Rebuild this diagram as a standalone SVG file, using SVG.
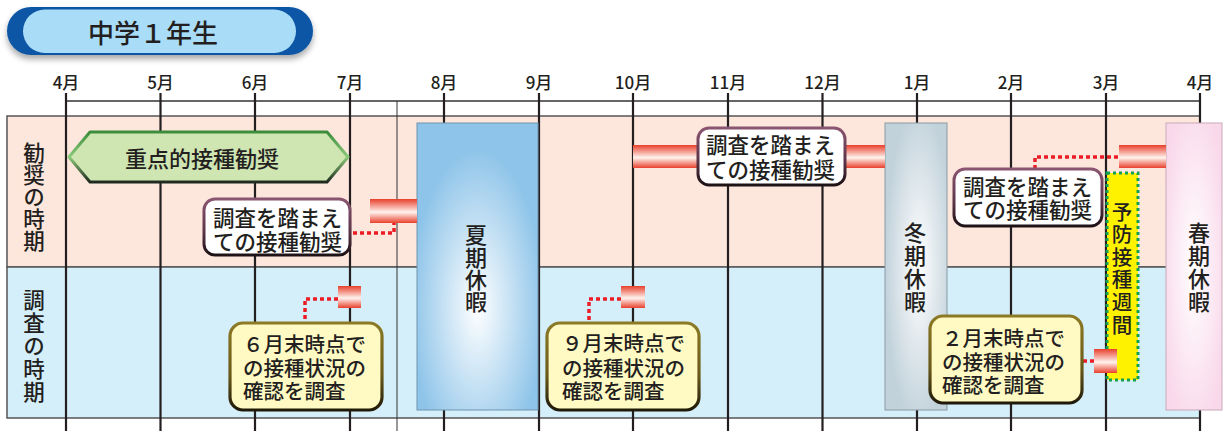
<svg xmlns="http://www.w3.org/2000/svg" width="1226" height="431" viewBox="0 0 1226 431">
<defs>
<style>
text{font-family:"Noto Sans CJK JP","Noto Sans",sans-serif;fill:#231f20;font-weight:500;}
.mon{font-size:17px;text-anchor:middle;}
.vert{writing-mode:vertical-rl;text-anchor:start;}
.lbl{font-size:21.5px;}
.vac{font-size:22px;}
.pc{font-size:21.5px;}
.yc{font-size:20.5px;}
.mline{stroke:#231f20;stroke-width:2.2;}
.dot{fill:none;stroke:#ec1c24;stroke-width:3.5;stroke-dasharray:4 3;}
.pcall{fill:#ffffff;stroke:url(#pinkStroke);stroke-width:3;}
.ycall{fill:#fff9c4;stroke:url(#yelStroke);stroke-width:3.2;}
.bar{fill:url(#redGrad);}
</style>
<linearGradient id="redGrad" x1="0" y1="0" x2="0" y2="1">
<stop offset="0" stop-color="#e8402c"/>
<stop offset="0.55" stop-color="#fff3ee"/>
<stop offset="1" stop-color="#e8402c"/>
</linearGradient>
<linearGradient id="pinkStroke" x1="0" y1="0" x2="0" y2="1">
<stop offset="0" stop-color="#8a5570"/>
<stop offset="0.6" stop-color="#5a3346"/>
<stop offset="1" stop-color="#1d1216"/>
</linearGradient>
<linearGradient id="yelStroke" x1="0" y1="0" x2="0" y2="1">
<stop offset="0" stop-color="#8c7a26"/>
<stop offset="0.6" stop-color="#6a5a1a"/>
<stop offset="1" stop-color="#1f1a08"/>
</linearGradient>
<linearGradient id="greenStroke" x1="0" y1="0" x2="0" y2="1">
<stop offset="0" stop-color="#3b8c3b"/>
<stop offset="0.5" stop-color="#8ccb7a"/>
<stop offset="1" stop-color="#1e2a1e"/>
</linearGradient>
<radialGradient id="sumGrad" cx="0.5" cy="0.64" r="0.55">
<stop offset="0" stop-color="#ffffff"/>
<stop offset="1" stop-color="#8ec4e9"/>
</radialGradient>
<radialGradient id="winGrad" cx="0.55" cy="0.5" r="0.55">
<stop offset="0" stop-color="#ffffff"/>
<stop offset="1" stop-color="#c2d2db"/>
</radialGradient>
<radialGradient id="sprGrad" cx="0.5" cy="0.5" r="0.6">
<stop offset="0" stop-color="#ffffff"/>
<stop offset="1" stop-color="#f9d8ea"/>
</radialGradient>
<filter id="shadow" x="-10%" y="-30%" width="120%" height="170%">
<feDropShadow dx="0" dy="4" stdDeviation="3" flood-color="#000" flood-opacity="0.35"/>
</filter>
</defs>

<g id="title">
<rect x="7" y="7" width="306" height="48" rx="24" fill="#0a56a6" filter="url(#shadow)"/>
<rect x="23" y="9.5" width="273" height="43.5" rx="21.75" fill="#a9dcf7"/>
<text x="88" y="43" style="font-size:26px">中学１年生</text>
</g>

<g id="table">
<rect x="7" y="116" width="1193" height="151" fill="#fde6dc" stroke="#555" stroke-width="1.5"/>
<rect x="7" y="267" width="1193" height="151" fill="#d4eefa" stroke="#555" stroke-width="1.5"/>
<line x1="66" y1="101" x2="1200" y2="101" stroke="#333" stroke-width="1.5"/>
<line x1="397" y1="101" x2="397" y2="431" stroke="#333" stroke-width="1"/>
<line class="mline" x1="66" y1="93" x2="66" y2="431"/>
<line class="mline" x1="160.5" y1="93" x2="160.5" y2="431"/>
<line class="mline" x1="255" y1="93" x2="255" y2="431"/>
<line class="mline" x1="350" y1="93" x2="350" y2="431"/>
<line class="mline" x1="444" y1="93" x2="444" y2="431"/>
<line class="mline" x1="539" y1="93" x2="539" y2="431"/>
<line class="mline" x1="633" y1="93" x2="633" y2="431"/>
<line class="mline" x1="728" y1="93" x2="728" y2="431"/>
<line class="mline" x1="822.5" y1="93" x2="822.5" y2="431"/>
<line class="mline" x1="917" y1="93" x2="917" y2="431"/>
<line class="mline" x1="1011" y1="93" x2="1011" y2="431"/>
<line class="mline" x1="1106" y1="93" x2="1106" y2="431"/>
<line class="mline" x1="1200" y1="93" x2="1200" y2="431"/>
</g>

<g id="months">
<text class="mon" x="66" y="89">4月</text>
<text class="mon" x="160.5" y="89">5月</text>
<text class="mon" x="255" y="89">6月</text>
<text class="mon" x="350" y="89">7月</text>
<text class="mon" x="444" y="89">8月</text>
<text class="mon" x="539" y="89">9月</text>
<text class="mon" x="633" y="89">10月</text>
<text class="mon" x="728" y="89">11月</text>
<text class="mon" x="822.5" y="89">12月</text>
<text class="mon" x="917" y="89">1月</text>
<text class="mon" x="1011" y="89">2月</text>
<text class="mon" x="1106" y="89">3月</text>
<text class="mon" x="1200" y="89">4月</text>
</g>

<g id="row-labels">
<text class="lbl vert" x="34" y="142.5" style="letter-spacing:0.3px">勧奨の時期</text>
<text class="lbl vert" x="34" y="289" style="letter-spacing:1.5px">調査の時期</text>
</g>

<g id="summer">
<rect x="417" y="123" width="121" height="287" fill="url(#sumGrad)" stroke="#6f93ad" stroke-width="1"/>
<text class="vac vert" x="476" y="224" style="letter-spacing:0.3px">夏期休暇</text>
</g>

<g id="winter">
<rect x="885" y="123" width="62" height="287" fill="url(#winGrad)" stroke="#8a9aa3" stroke-width="1"/>
<text class="vac vert" x="915" y="222" style="letter-spacing:1px">冬期休暇</text>
</g>

<g id="spring">
<rect x="1166" y="123" width="56" height="287" fill="url(#sprGrad)" stroke="#c9a9b9" stroke-width="1"/>
<text class="vac vert" x="1199" y="222" style="letter-spacing:1px">春期休暇</text>
</g>

<g id="connectors">
<rect class="bar" x="370" y="199" width="47" height="24"/>
<rect class="bar" x="633" y="145" width="65" height="23"/>
<rect class="bar" x="845" y="145" width="40" height="23"/>
<rect class="bar" x="1119" y="145" width="47" height="23"/>
<rect class="bar" x="338" y="286" width="23" height="22"/>
<rect class="bar" x="621" y="286" width="24" height="22"/>
<polyline class="dot" points="353,233 394,233 394,223"/>
<polyline class="dot" points="1035,169 1035,157 1119,157"/>
<polyline class="dot" points="338,299 305,299 305,323"/>
<polyline class="dot" points="621,299 589,299 589,323"/>
<polyline class="dot" points="1083,361 1094,361"/>
</g>

<g id="yobou">
<rect x="1107" y="173" width="31" height="207" fill="#fff200" stroke="#13a052" stroke-width="3" stroke-dasharray="3 3"/>
<text class="yc vert" x="1122" y="201.5" style="letter-spacing:2.1px">予防接種週間</text>
</g>
<rect class="bar" x="1094" y="349" width="23" height="24"/>

<g id="juten">
<polygon points="69,157 90,132 327,132 348,157 327,182 90,182" fill="#cfe5b2" stroke="url(#greenStroke)" stroke-width="3" stroke-linejoin="round"/>
<text x="125" y="167" style="font-size:22px">重点的接種勧奨</text>
</g>

<g id="callout-1">
<rect class="pcall" x="204" y="199" width="146" height="56" rx="11"/>
<text class="pc"><tspan x="213" y="226">調査を踏まえ</tspan><tspan x="213" y="250">ての接種勧奨</tspan></text>
</g>

<g id="callout-2">
<rect class="pcall" x="698" y="128" width="147" height="57" rx="11"/>
<text class="pc"><tspan x="706" y="153">調査を踏まえ</tspan><tspan x="706" y="178">ての接種勧奨</tspan></text>
</g>

<g id="callout-3">
<rect class="pcall" x="954" y="169" width="148" height="57" rx="11"/>
<text class="pc"><tspan x="963" y="195">調査を踏まえ</tspan><tspan x="963" y="218">ての接種勧奨</tspan></text>
</g>

<g id="survey-6">
<rect class="ycall" x="230" y="323" width="152" height="87" rx="13"/>
<text class="yc"><tspan x="243" y="352">６月末時点で</tspan><tspan x="243" y="376">の接種状況の</tspan><tspan x="243" y="399">確認を調査</tspan></text>
</g>

<g id="survey-9">
<rect class="ycall" x="547" y="323" width="152" height="87" rx="13"/>
<text class="yc"><tspan x="562" y="351">９月末時点で</tspan><tspan x="562" y="376">の接種状況の</tspan><tspan x="562" y="399">確認を調査</tspan></text>
</g>

<g id="survey-2">
<rect class="ycall" x="930" y="316" width="152" height="87" rx="13"/>
<text class="yc"><tspan x="942" y="346">２月末時点で</tspan><tspan x="942" y="370">の接種状況の</tspan><tspan x="942" y="393">確認を調査</tspan></text>
</g>
</svg>
